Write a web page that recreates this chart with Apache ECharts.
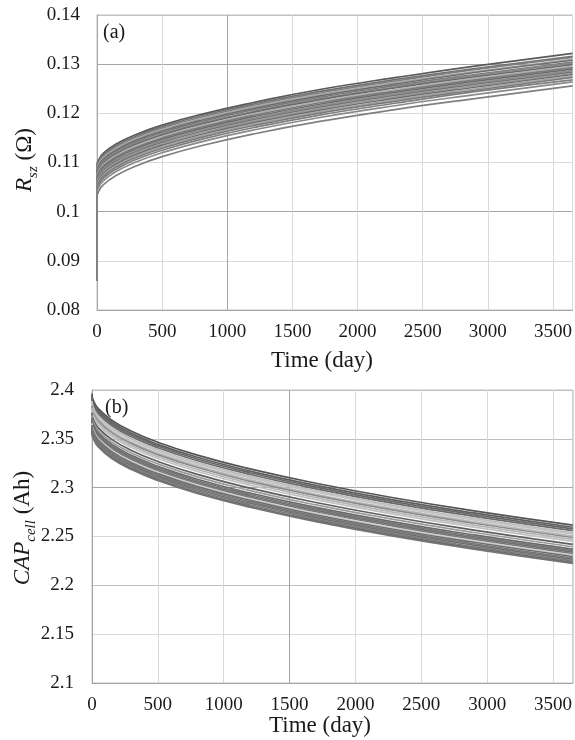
<!DOCTYPE html>
<html>
<head>
<meta charset="utf-8">
<script src="https://cdn.jsdelivr.net/npm/echarts@6/dist/echarts.min.js"></script>
<style>
  html, body { margin: 0; padding: 0; background: #ffffff; }
  #chart { width: 575px; height: 740px; }
</style>
</head>
<body>
<div id="chart"></div>
<script>
// Sampling days shared by every simulated cell trajectory
const days = [0, 1, 10, 50, 150, 300, 500, 800, 1200, 1700, 2300, 2900, 3650];

// (a) series resistance R_sz (ohm), one row per cell
const rszCurves = [
  [0.0860, 0.1096, 0.1104, 0.1119, 0.1138, 0.1157, 0.1176, 0.1198, 0.1222, 0.1248, 0.1273, 0.1296, 0.1322],
  [0.0860, 0.1093, 0.1101, 0.1116, 0.1135, 0.1154, 0.1173, 0.1195, 0.1219, 0.1244, 0.1269, 0.1291, 0.1316],
  [0.0860, 0.1090, 0.1098, 0.1113, 0.1132, 0.1151, 0.1170, 0.1192, 0.1216, 0.1241, 0.1266, 0.1289, 0.1314],
  [0.0860, 0.1087, 0.1095, 0.1110, 0.1129, 0.1148, 0.1167, 0.1189, 0.1213, 0.1238, 0.1263, 0.1285, 0.1310],
  [0.0860, 0.1084, 0.1092, 0.1107, 0.1126, 0.1145, 0.1164, 0.1186, 0.1210, 0.1235, 0.1260, 0.1283, 0.1308],
  [0.0860, 0.1081, 0.1089, 0.1104, 0.1123, 0.1142, 0.1161, 0.1183, 0.1207, 0.1232, 0.1257, 0.1279, 0.1304],
  [0.0860, 0.1078, 0.1086, 0.1101, 0.1120, 0.1139, 0.1158, 0.1180, 0.1204, 0.1229, 0.1254, 0.1277, 0.1302],
  [0.0860, 0.1076, 0.1084, 0.1099, 0.1118, 0.1137, 0.1156, 0.1178, 0.1202, 0.1227, 0.1252, 0.1274, 0.1299],
  [0.0860, 0.1073, 0.1081, 0.1096, 0.1115, 0.1134, 0.1153, 0.1175, 0.1199, 0.1224, 0.1249, 0.1271, 0.1296],
  [0.0860, 0.1070, 0.1078, 0.1093, 0.1112, 0.1131, 0.1150, 0.1172, 0.1196, 0.1221, 0.1246, 0.1268, 0.1293],
  [0.0860, 0.1067, 0.1075, 0.1090, 0.1109, 0.1128, 0.1147, 0.1169, 0.1193, 0.1218, 0.1243, 0.1265, 0.1290],
  [0.0860, 0.1064, 0.1072, 0.1087, 0.1106, 0.1125, 0.1144, 0.1166, 0.1190, 0.1215, 0.1240, 0.1262, 0.1287],
  [0.0860, 0.1061, 0.1069, 0.1084, 0.1103, 0.1122, 0.1141, 0.1163, 0.1187, 0.1212, 0.1237, 0.1259, 0.1284],
  [0.0860, 0.1058, 0.1066, 0.1081, 0.1100, 0.1119, 0.1138, 0.1160, 0.1184, 0.1209, 0.1234, 0.1256, 0.1281],
  [0.0860, 0.1055, 0.1063, 0.1078, 0.1097, 0.1116, 0.1135, 0.1157, 0.1181, 0.1206, 0.1231, 0.1253, 0.1279],
  [0.0860, 0.1052, 0.1060, 0.1075, 0.1094, 0.1113, 0.1132, 0.1154, 0.1178, 0.1203, 0.1228, 0.1250, 0.1276],
  [0.0860, 0.1049, 0.1057, 0.1072, 0.1091, 0.1110, 0.1129, 0.1151, 0.1175, 0.1200, 0.1225, 0.1247, 0.1273],
  [0.0860, 0.1045, 0.1053, 0.1068, 0.1087, 0.1106, 0.1125, 0.1147, 0.1171, 0.1196, 0.1221, 0.1244, 0.1268],
  [0.0860, 0.1040, 0.1048, 0.1063, 0.1082, 0.1101, 0.1120, 0.1142, 0.1166, 0.1191, 0.1216, 0.1238, 0.1264],
  [0.0860, 0.1031, 0.1040, 0.1055, 0.1074, 0.1093, 0.1112, 0.1134, 0.1158, 0.1183, 0.1208, 0.1230, 0.1256]
];
const rszColors = [
  '#5a5a5a', '#707070', '#808080', '#a8a8a8', '#6e6e6e', '#7a7a7a', '#8a8a8a', '#6a6a6a', '#b0b0b0', '#7c7c7c',
  '#6c6c6c', '#8e8e8e', '#767676', '#9a9a9a', '#6e6e6e', '#a4a4a4', '#7a7a7a', '#7e7e7e', '#8a8a8a', '#808080'
];

// (b) cell capacity CAP_cell (Ah), one row per cell
const capCurves = [
  [2.3964, 2.3942, 2.3893, 2.3806, 2.3691, 2.3578, 2.3465, 2.3333, 2.3192, 2.3045, 2.2894, 2.2763, 2.2617],
  [2.3942, 2.3920, 2.3871, 2.3784, 2.3669, 2.3556, 2.3443, 2.3311, 2.3170, 2.3023, 2.2872, 2.2741, 2.2595],
  [2.3925, 2.3903, 2.3854, 2.3767, 2.3652, 2.3539, 2.3426, 2.3294, 2.3153, 2.3006, 2.2855, 2.2724, 2.2578],
  [2.3907, 2.3885, 2.3836, 2.3749, 2.3634, 2.3521, 2.3408, 2.3276, 2.3135, 2.2988, 2.2837, 2.2706, 2.2560],
  [2.3887, 2.3865, 2.3816, 2.3729, 2.3614, 2.3501, 2.3388, 2.3256, 2.3115, 2.2968, 2.2817, 2.2686, 2.2540],
  [2.3872, 2.3850, 2.3801, 2.3714, 2.3599, 2.3486, 2.3373, 2.3241, 2.3100, 2.2953, 2.2802, 2.2671, 2.2525],
  [2.3852, 2.3830, 2.3781, 2.3694, 2.3579, 2.3466, 2.3353, 2.3221, 2.3080, 2.2933, 2.2782, 2.2651, 2.2505],
  [2.3837, 2.3815, 2.3766, 2.3679, 2.3564, 2.3451, 2.3338, 2.3206, 2.3065, 2.2918, 2.2767, 2.2636, 2.2490],
  [2.3817, 2.3795, 2.3746, 2.3659, 2.3544, 2.3431, 2.3318, 2.3186, 2.3045, 2.2898, 2.2747, 2.2616, 2.2470],
  [2.3797, 2.3775, 2.3726, 2.3639, 2.3524, 2.3411, 2.3298, 2.3166, 2.3025, 2.2878, 2.2727, 2.2596, 2.2450],
  [2.3767, 2.3745, 2.3696, 2.3609, 2.3494, 2.3381, 2.3268, 2.3136, 2.2995, 2.2848, 2.2697, 2.2566, 2.2420],
  [2.3742, 2.3720, 2.3671, 2.3584, 2.3469, 2.3356, 2.3243, 2.3111, 2.2970, 2.2823, 2.2672, 2.2541, 2.2395],
  [2.3717, 2.3695, 2.3646, 2.3559, 2.3444, 2.3331, 2.3218, 2.3086, 2.2945, 2.2798, 2.2647, 2.2516, 2.2370],
  [2.3702, 2.3680, 2.3631, 2.3544, 2.3429, 2.3316, 2.3203, 2.3071, 2.2930, 2.2783, 2.2632, 2.2501, 2.2355],
  [2.3687, 2.3665, 2.3616, 2.3529, 2.3414, 2.3301, 2.3188, 2.3056, 2.2915, 2.2768, 2.2617, 2.2486, 2.2340],
  [2.3672, 2.3650, 2.3601, 2.3514, 2.3399, 2.3286, 2.3173, 2.3041, 2.2900, 2.2753, 2.2602, 2.2471, 2.2325],
  [2.3657, 2.3635, 2.3586, 2.3499, 2.3384, 2.3271, 2.3158, 2.3026, 2.2885, 2.2738, 2.2587, 2.2456, 2.2310],
  [2.3642, 2.3620, 2.3571, 2.3484, 2.3369, 2.3256, 2.3143, 2.3011, 2.2870, 2.2723, 2.2572, 2.2441, 2.2295],
  [2.3627, 2.3605, 2.3556, 2.3469, 2.3354, 2.3241, 2.3128, 2.2996, 2.2855, 2.2708, 2.2557, 2.2426, 2.2280],
  [2.3612, 2.3590, 2.3541, 2.3454, 2.3339, 2.3226, 2.3113, 2.2981, 2.2840, 2.2693, 2.2542, 2.2411, 2.2265],
  [2.3597, 2.3575, 2.3526, 2.3439, 2.3324, 2.3211, 2.3098, 2.2966, 2.2825, 2.2678, 2.2527, 2.2396, 2.2250],
  [2.3582, 2.3560, 2.3511, 2.3424, 2.3309, 2.3196, 2.3083, 2.2951, 2.2810, 2.2663, 2.2512, 2.2381, 2.2235],
  [2.3572, 2.3550, 2.3501, 2.3414, 2.3299, 2.3186, 2.3073, 2.2941, 2.2800, 2.2653, 2.2502, 2.2371, 2.2225]
];
const capColors = [
  '#555555', '#5e5e5e', '#666666', '#6a6a6a', '#bdbdbd', '#c4c4c4', '#b8b8b8', '#8c8c8c', '#b4b4b4', '#c0c0c0',
  '#5e5e5e', '#9a9a9a', '#6a6a6a', '#767676', '#707070', '#7a7a7a', '#cfcfcf', '#6e6e6e', '#787878', '#707070',
  '#7c7c7c', '#6a6a6a', '#747474'
];

// Axis ticks
const dayTicks = [0, 500, 1000, 1500, 2000, 2500, 3000, 3500];
const dayMax = 3650;
const rszTicks = [0.08, 0.09, 0.10, 0.11, 0.12, 0.13, 0.14];
const capTicks = [2.1, 2.15, 2.2, 2.25, 2.3, 2.35, 2.4];

const FONT = 'Liberation Serif';
const LIGHT = '#d9d9d9', MID = '#c0c0c0', DARK = '#a6a6a6';

function pairs(ys) {
  return days.map((d, i) => [d, ys[i]]);
}

function lineSeries(curves, colors, idx) {
  return curves.map((ys, k) => ({
    type: 'line',
    xAxisIndex: idx,
    yAxisIndex: idx,
    data: pairs(ys),
    showSymbol: false,
    smooth: 0.5,
    lineStyle: { color: colors[k % colors.length], width: 1.7 },
    silent: true,
    z: 3
  }));
}

function xAxisFor(idx, splitColors) {
  return {
    type: 'value',
    gridIndex: idx,
    min: dayTicks[0],
    max: dayMax,
    interval: dayTicks[1] - dayTicks[0],
    axisLine: { show: true, onZero: false, lineStyle: { color: DARK, width: 1 } },
    axisTick: { show: false },
    axisLabel: {
      color: '#1a1a1a', fontFamily: FONT, fontSize: 19, margin: 13,
      formatter: v => String(Math.round(v))
    },
    splitLine: { show: true, lineStyle: { color: splitColors, width: 1 } }
  };
}

function yAxisFor(idx, ticks, splitColors, margin) {
  return {
    type: 'value',
    gridIndex: idx,
    min: ticks[0],
    max: ticks[ticks.length - 1],
    interval: +(ticks[1] - ticks[0]).toFixed(4),
    axisLine: { show: true, lineStyle: { color: DARK, width: 1 } },
    axisTick: { show: false },
    axisLabel: {
      color: '#1a1a1a', fontFamily: FONT, fontSize: 19, margin: margin,
      formatter: v => String(+v.toFixed(3))
    },
    splitLine: { show: true, lineStyle: { color: splitColors, width: 1 } }
  };
}

const chart = echarts.init(document.getElementById('chart'), null, { renderer: 'canvas' });

chart.setOption({
  backgroundColor: '#ffffff',
  animation: false,
  grid: [
    { left: 97, top: 15, width: 476, height: 295, show: true, borderColor: MID, borderWidth: 1, backgroundColor: 'transparent' },
    { left: 92, top: 390, width: 481, height: 293, show: true, borderColor: MID, borderWidth: 1, backgroundColor: 'transparent' }
  ],
  xAxis: [
    xAxisFor(0, [LIGHT, LIGHT, DARK, LIGHT, LIGHT, LIGHT, LIGHT, LIGHT]),
    xAxisFor(1, [LIGHT, LIGHT, LIGHT, DARK, LIGHT, LIGHT, LIGHT, LIGHT])
  ],
  yAxis: [
    yAxisFor(0, rszTicks, [LIGHT, LIGHT, DARK, LIGHT, LIGHT, DARK, MID], 17),
    yAxisFor(1, capTicks, [LIGHT, LIGHT, MID, LIGHT, DARK, MID, MID], 18)
  ],
  series: [].concat(lineSeries(rszCurves, rszColors, 0), lineSeries(capCurves, capColors, 1)),
  graphic: [
    { type: 'text', left: 103, top: 23, style: { text: '(a)', font: '20px "Liberation Serif"', fill: '#1a1a1a' }, z: 10 },
    { type: 'text', left: 105, top: 398, style: { text: '(b)', font: '20px "Liberation Serif"', fill: '#1a1a1a' }, z: 10 },
    {
      type: 'text', x: 322, y: 361,
      style: { text: 'Time (day)', font: '23px "Liberation Serif"', fill: '#1a1a1a', align: 'center', verticalAlign: 'middle' }
    },
    {
      type: 'text', x: 320, y: 726,
      style: { text: 'Time (day)', font: '23px "Liberation Serif"', fill: '#1a1a1a', align: 'center', verticalAlign: 'middle' }
    },
    {
      type: 'text', x: 25, y: 160, rotation: Math.PI / 2,
      style: {
        text: '{i|R}{s|sz}{n| (Ω)}',
        align: 'center', verticalAlign: 'middle', fill: '#1a1a1a',
        rich: {
          i: { fontFamily: FONT, fontStyle: 'italic', fontSize: 23, lineHeight: 32, fill: '#1a1a1a' },
          s: { fontFamily: FONT, fontStyle: 'italic', fontSize: 15, lineHeight: 15, verticalAlign: 'bottom', fill: '#1a1a1a' },
          n: { fontFamily: FONT, fontSize: 23, lineHeight: 32, fill: '#1a1a1a' }
        }
      }
    },
    {
      type: 'text', x: 23, y: 528, rotation: Math.PI / 2,
      style: {
        text: '{i|CAP}{s|cell}{n| (Ah)}',
        align: 'center', verticalAlign: 'middle', fill: '#1a1a1a',
        rich: {
          i: { fontFamily: FONT, fontStyle: 'italic', fontSize: 23, lineHeight: 32, fill: '#1a1a1a' },
          s: { fontFamily: FONT, fontStyle: 'italic', fontSize: 15, lineHeight: 15, verticalAlign: 'bottom', fill: '#1a1a1a' },
          n: { fontFamily: FONT, fontSize: 23, lineHeight: 32, fill: '#1a1a1a' }
        }
      }
    }
  ]
});
</script>
</body>
</html>
